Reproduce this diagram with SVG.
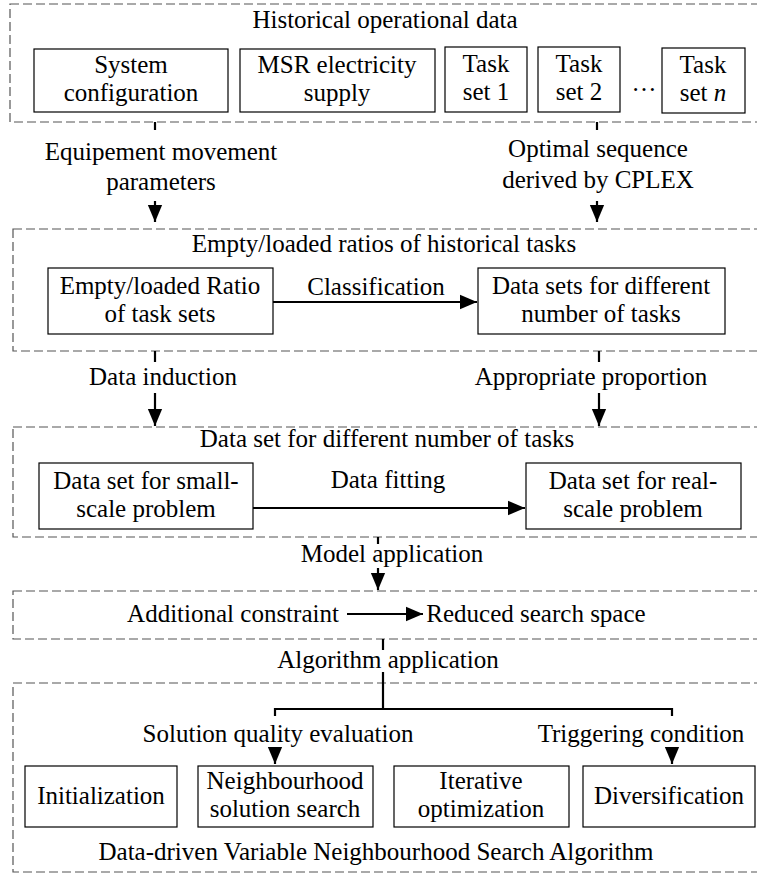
<svg xmlns="http://www.w3.org/2000/svg" width="757" height="874" viewBox="0 0 757 874">
<defs>
<style>
text{font-family:"Liberation Serif","Times New Roman",serif;font-size:25px;fill:#000;text-anchor:middle}
.grp{fill:none;stroke:#555;stroke-width:1.2;stroke-dasharray:9,4}
.box{fill:#fff;stroke:#000;stroke-width:1.2}
.ln{fill:none;stroke:#000;stroke-width:2.2}
</style>
<marker id="ah" viewBox="0 0 10 10" refX="10" refY="5" markerWidth="17" markerHeight="17" markerUnits="userSpaceOnUse" orient="auto"><path d="M0,0.8 L10,5 L0,9.2 z" fill="#000"/></marker>
</defs>
<rect width="757" height="874" fill="#fff"/>

<g id="groups">
<rect class="grp" x="10" y="4" width="760" height="118"/>
<rect class="grp" x="13" y="229" width="760" height="122"/>
<rect class="grp" x="13" y="427" width="760" height="110"/>
<rect class="grp" x="13" y="591" width="760" height="48"/>
<rect class="grp" x="13" y="683" width="760" height="189"/>
</g>

<g id="connectors">
<line class="ln" x1="155" y1="122" x2="155" y2="130"/>
<line class="ln" x1="155" y1="201" x2="155" y2="222" marker-end="url(#ah)"/>
<line class="ln" x1="597" y1="122" x2="597" y2="130"/>
<line class="ln" x1="597" y1="201" x2="597" y2="222" marker-end="url(#ah)"/>
<line class="ln" x1="273" y1="302" x2="477" y2="302" marker-end="url(#ah)"/>
<line class="ln" x1="155" y1="351" x2="155" y2="362"/>
<line class="ln" x1="155" y1="393" x2="155" y2="426" marker-end="url(#ah)"/>
<line class="ln" x1="599" y1="351" x2="599" y2="362"/>
<line class="ln" x1="599" y1="393" x2="599" y2="426" marker-end="url(#ah)"/>
<line class="ln" x1="253" y1="508" x2="525" y2="508" marker-end="url(#ah)"/>
<line class="ln" x1="378" y1="537" x2="378" y2="544"/>
<line class="ln" x1="378" y1="568" x2="378" y2="590" marker-end="url(#ah)"/>
<line class="ln" x1="347" y1="614" x2="423" y2="614" marker-end="url(#ah)"/>
<line class="ln" x1="383" y1="639" x2="383" y2="650"/>
<line class="ln" x1="383" y1="672" x2="383" y2="709"/>
<polyline class="ln" points="275,716 275,709 672,709 672,716"/>
<line class="ln" x1="275" y1="747" x2="275" y2="764" marker-end="url(#ah)"/>
<line class="ln" x1="672" y1="747" x2="672" y2="764" marker-end="url(#ah)"/>
</g>

<g id="labels">
<text x="385" y="28">Historical operational data</text>
<text x="161" y="160">Equipement movement</text>
<text x="161" y="190">parameters</text>
<text x="598" y="157">Optimal sequence</text>
<text x="598" y="188">derived by CPLEX</text>
<text x="384" y="252">Empty/loaded ratios of historical tasks</text>
<text x="376" y="295">Classification</text>
<text x="163" y="385">Data induction</text>
<text x="591" y="385">Appropriate proportion</text>
<text x="387" y="447">Data set for different number of tasks</text>
<text x="388" y="488">Data fitting</text>
<text x="392" y="562">Model application</text>
<text x="233" y="622">Additional constraint</text>
<text x="536" y="622">Reduced search space</text>
<text x="388" y="668">Algorithm application</text>
<text x="278" y="742">Solution quality evaluation</text>
<text x="641" y="742">Triggering condition</text>
<text x="376" y="860">Data-driven Variable Neighbourhood Search Algorithm</text>
<text x="644" y="91">…</text>
</g>

<g id="n-sysconf"><rect class="box" x="34" y="49" width="194" height="63"/><text x="131" y="73">System</text><text x="131" y="101">configuration</text></g>
<g id="n-msr"><rect class="box" x="240" y="49" width="195" height="63"/><text x="337" y="73">MSR electricity</text><text x="337" y="101">supply</text></g>
<g id="n-task1"><rect class="box" x="445" y="47" width="82" height="65"/><text x="486" y="72">Task</text><text x="486" y="100">set 1</text></g>
<g id="n-task2"><rect class="box" x="538" y="47" width="82" height="65"/><text x="579" y="72">Task</text><text x="579" y="100">set 2</text></g>
<g id="n-taskn"><rect class="box" x="662" y="48" width="83" height="65"/><text x="703" y="73">Task</text><text x="703" y="101">set <tspan font-style="italic">n</tspan></text></g>

<g id="n-ratio"><rect class="box" x="48" y="268" width="225" height="66"/><text x="160" y="294">Empty/loaded Ratio</text><text x="160" y="322">of task sets</text></g>
<g id="n-datasets"><rect class="box" x="478" y="268" width="247" height="66"/><text x="601" y="294">Data sets for different</text><text x="601" y="322">number of tasks</text></g>

<g id="n-small"><rect class="box" x="39" y="463" width="214" height="66"/><text x="146" y="489">Data set for small-</text><text x="146" y="517">scale problem</text></g>
<g id="n-real"><rect class="box" x="526" y="463" width="215" height="66"/><text x="633" y="489">Data set for real-</text><text x="633" y="517">scale problem</text></g>

<g id="n-init"><rect class="box" x="25" y="766" width="152" height="61"/><text x="101" y="804">Initialization</text></g>
<g id="n-neigh"><rect class="box" x="198" y="766" width="175" height="61"/><text x="285" y="789">Neighbourhood</text><text x="285" y="817">solution search</text></g>
<g id="n-iter"><rect class="box" x="394" y="766" width="175" height="61"/><text x="481" y="789">Iterative</text><text x="481" y="817">optimization</text></g>
<g id="n-div"><rect class="box" x="583" y="766" width="172" height="61"/><text x="669" y="804">Diversification</text></g>
</svg>
